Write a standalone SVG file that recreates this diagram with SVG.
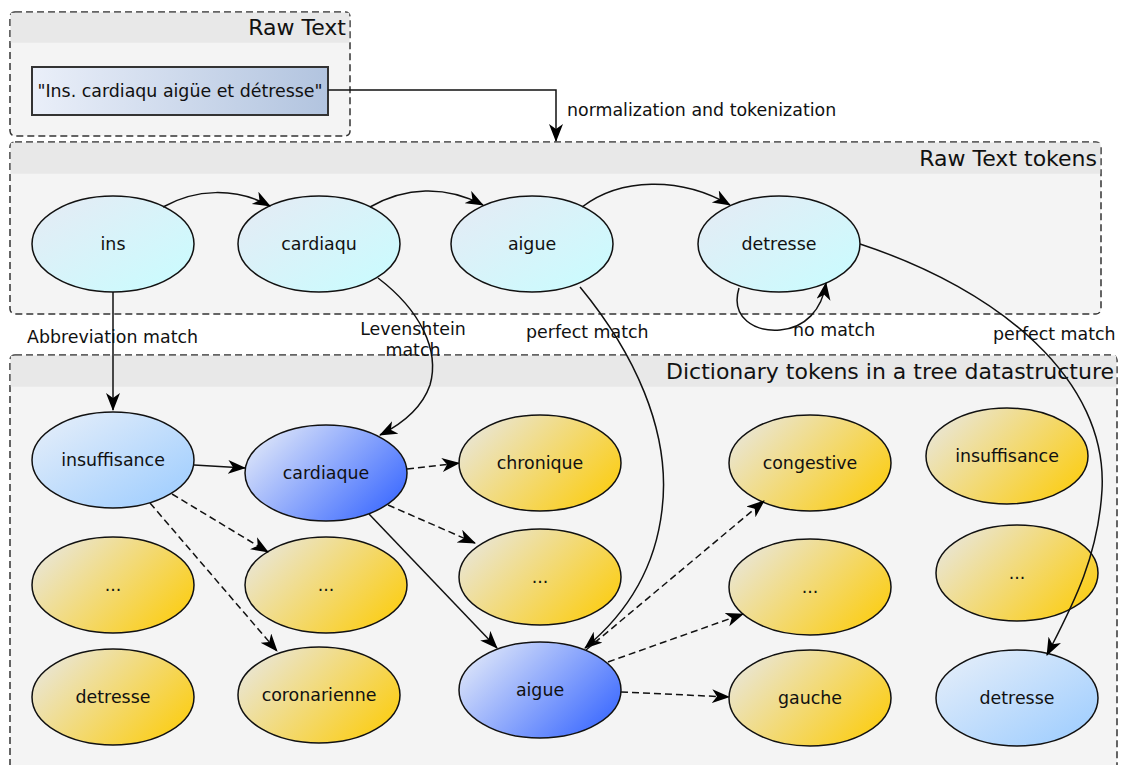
<svg xmlns="http://www.w3.org/2000/svg" width="1124" height="765" viewBox="0 0 1124 765">
<style>
.cont{fill:#f4f4f4;stroke:#333;stroke-width:1.5;stroke-dasharray:7 4}
.hdr{fill:#e8e8e8}
.title{font-family:"DejaVu Sans",sans-serif;font-size:22px;fill:#111;text-anchor:end}
.lbl{font-family:"DejaVu Sans",sans-serif;font-size:17.4px;fill:#111}
.nt{font-family:"DejaVu Sans",sans-serif;font-size:17.4px;fill:#111;text-anchor:middle;dominant-baseline:central}
.ell{stroke:#111;stroke-width:1.5}
.tok{fill:url(#gTok)}
.yel{fill:url(#gYel)}
.lb{fill:url(#gLb)}
.db{fill:url(#gDb)}
.e{fill:none;stroke:#111;stroke-width:1.5;marker-end:url(#arr)}
.d{stroke-dasharray:7 4}
</style>
<defs>
<linearGradient id="gTok" x1="0" y1="0" x2="1" y2="1"><stop offset="0" stop-color="#e6eaf4"/><stop offset="1" stop-color="#c8fdff"/></linearGradient>
<linearGradient id="gBox" x1="0" y1="0" x2="1" y2="0"><stop offset="0" stop-color="#eaeff9"/><stop offset="1" stop-color="#b2c4df"/></linearGradient>
<linearGradient id="gYel" x1="0" y1="0.2" x2="1" y2="0.8"><stop offset="0" stop-color="#e9e6d9"/><stop offset="1" stop-color="#fccd10"/></linearGradient>
<linearGradient id="gLb" x1="0" y1="0" x2="1" y2="1"><stop offset="0" stop-color="#e9f0f9"/><stop offset="1" stop-color="#9acbff"/></linearGradient>
<linearGradient id="gDb" x1="0" y1="0.2" x2="1" y2="0.8"><stop offset="0" stop-color="#dfe7f9"/><stop offset="1" stop-color="#3a68ff"/></linearGradient>
<marker id="arr" markerUnits="userSpaceOnUse" markerWidth="19" markerHeight="15" refX="17" refY="7" orient="auto"><path d="M0,0 L18,7 L0,14 L5,7 Z" fill="#000"/></marker>
</defs>

<g id="containers">
<g id="raw-text">
<rect class="cont" x="10" y="12" width="340" height="124" rx="5"/>
<rect class="hdr" x="10.75" y="12.75" width="338.5" height="30"/>
<text class="title" x="346" y="35">Raw Text</text>
</g>
<g id="raw-text-tokens">
<rect class="cont" x="10" y="142" width="1091" height="172" rx="5"/>
<rect class="hdr" x="10.75" y="142.75" width="1089.5" height="31"/>
<text class="title" x="1097" y="166">Raw Text tokens</text>
</g>
<g id="dictionary">
<rect class="cont" x="10" y="355" width="1107" height="430" rx="5"/>
<rect class="hdr" x="10.75" y="355.75" width="1105.5" height="31"/>
<text class="title" x="1114" y="379">Dictionary tokens in a tree datastructure</text>
</g>
</g>

<g id="node-rawtext">
<rect x="32" y="67" width="296" height="48" fill="url(#gBox)" stroke="#333" stroke-width="2"/>
<text class="nt" x="180" y="91">"Ins. cardiaqu aigüe et détresse"</text>
</g>

<g id="tok-ins"><ellipse class="ell tok" cx="113" cy="244" rx="81" ry="48"/><text class="nt" x="113" y="244">ins</text></g>
<g id="tok-cardiaqu"><ellipse class="ell tok" cx="319" cy="244" rx="81" ry="48"/><text class="nt" x="319" y="244">cardiaqu</text></g>
<g id="tok-aigue"><ellipse class="ell tok" cx="532" cy="244" rx="81" ry="48"/><text class="nt" x="532" y="244">aigue</text></g>
<g id="tok-detresse"><ellipse class="ell tok" cx="779" cy="244" rx="81" ry="48"/><text class="nt" x="779" y="244">detresse</text></g>

<g id="d-insuffisance"><ellipse class="ell lb" cx="113" cy="460" rx="81" ry="48"/><text class="nt" x="113" y="460">insuffisance</text></g>
<g id="d-cardiaque"><ellipse class="ell db" cx="326" cy="473" rx="81" ry="48"/><text class="nt" x="326" y="473">cardiaque</text></g>
<g id="d-chronique"><ellipse class="ell yel" cx="540" cy="463" rx="81" ry="48"/><text class="nt" x="540" y="463">chronique</text></g>
<g id="d-dots-1"><ellipse class="ell yel" cx="113" cy="585" rx="81" ry="48"/><text class="nt" x="113" y="585">...</text></g>
<g id="d-dots-2"><ellipse class="ell yel" cx="326" cy="585" rx="81" ry="48"/><text class="nt" x="326" y="585">...</text></g>
<g id="d-dots-3"><ellipse class="ell yel" cx="540" cy="577" rx="81" ry="48"/><text class="nt" x="540" y="577">...</text></g>
<g id="d-detresse"><ellipse class="ell yel" cx="113" cy="697" rx="81" ry="48"/><text class="nt" x="113" y="697">detresse</text></g>
<g id="d-coronarienne"><ellipse class="ell yel" cx="319" cy="695" rx="81" ry="48"/><text class="nt" x="319" y="695">coronarienne</text></g>
<g id="d-aigue"><ellipse class="ell db" cx="540" cy="690" rx="81" ry="48"/><text class="nt" x="540" y="690">aigue</text></g>
<g id="d-congestive"><ellipse class="ell yel" cx="810" cy="463" rx="81" ry="48"/><text class="nt" x="810" y="463">congestive</text></g>
<g id="d-dots-4"><ellipse class="ell yel" cx="810" cy="587" rx="81" ry="48"/><text class="nt" x="810" y="587">...</text></g>
<g id="d-gauche"><ellipse class="ell yel" cx="810" cy="698" rx="81" ry="48"/><text class="nt" x="810" y="698">gauche</text></g>
<g id="d-insuffisance-2"><ellipse class="ell yel" cx="1007" cy="456" rx="81" ry="48"/><text class="nt" x="1007" y="456">insuffisance</text></g>
<g id="d-dots-5"><ellipse class="ell yel" cx="1017" cy="573" rx="81" ry="48"/><text class="nt" x="1017" y="573">...</text></g>
<g id="d-detresse-2"><ellipse class="ell lb" cx="1017" cy="698" rx="81" ry="48"/><text class="nt" x="1017" y="698">detresse</text></g>

<g id="connectors">
<path class="e" d="M328,90 H556 V141"/>
<path class="e" d="M163,207 C195,189 235,187 270,206"/>
<path class="e" d="M370,207 C405,187 445,185 483,205"/>
<path class="e" d="M582,207 C620,178 680,176 730,205"/>
<path class="e" d="M739,288 C730,318 755,332 780,330 C805,328 822,310 826,283"/>
<path class="e" d="M860,244 C1000,290 1108,380 1102,490 C1098,560 1070,610 1047,655"/>
<path class="e" d="M580,287 C632,350 672,430 662,510 C655,570 625,615 585,648"/>
<path class="e" d="M378,278 C420,310 440,350 430,385 C422,408 402,424 380,435"/>
<path class="e" d="M113,292 V410"/>
<path class="e" d="M194,465 L245,468"/>
<path class="e d" d="M407,469 L459,463"/>
<path class="e d" d="M388,505 L475,543"/>
<path class="e" d="M369,514 L497,648"/>
<path class="e d" d="M172,494 L268,552"/>
<path class="e d" d="M150,503 L277,651"/>
<path class="e d" d="M586,650 L764,501"/>
<path class="e d" d="M608,662 L743,614"/>
<path class="e d" d="M621,692 L729,697"/>
</g>

<g id="labels">
<text class="lbl" x="567" y="116">normalization and tokenization</text>
<text class="lbl" x="27" y="343">Abbreviation match</text>
<text class="lbl" x="413" y="335" text-anchor="middle">Levenshtein</text>
<text class="lbl" x="413" y="356" text-anchor="middle">match</text>
<text class="lbl" x="526" y="338">perfect match</text>
<text class="lbl" x="793" y="336">no match</text>
<text class="lbl" x="993" y="340">perfect match</text>
</g>
</svg>
